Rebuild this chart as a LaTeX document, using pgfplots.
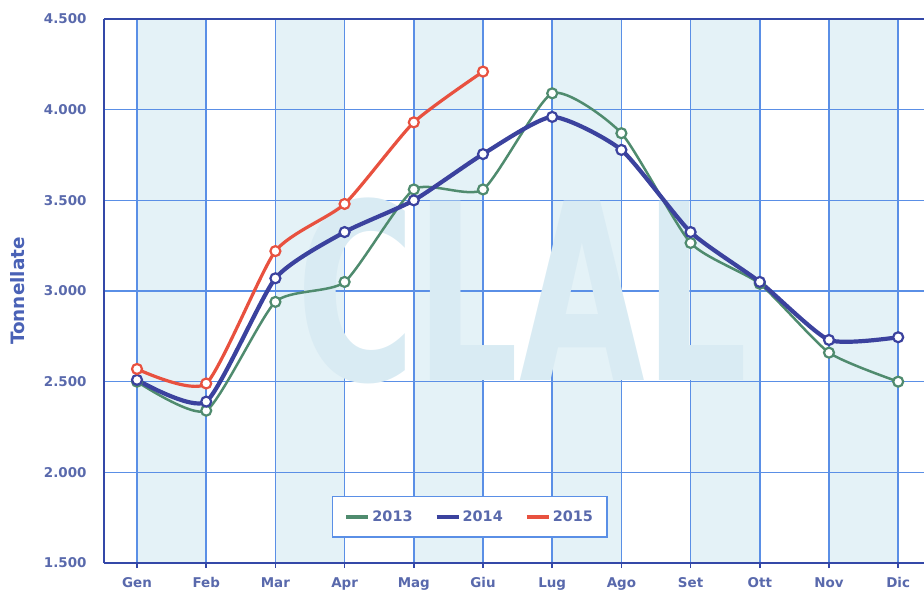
\documentclass[border=0pt]{standalone}
\usepackage{fontspec}
\setmainfont{DejaVu Sans}
\usepackage{pgfplots}
\pgfplotsset{compat=1.18}

\definecolor{c13}{HTML}{4F8B6E}
\definecolor{c14}{HTML}{3B429E}
\definecolor{c15}{HTML}{E8513F}
\definecolor{gridc}{HTML}{5A8FE6}
\definecolor{spine}{HTML}{3448A8}
\definecolor{band}{HTML}{E4F2F7}
\definecolor{tickc}{HTML}{5969AC}
\definecolor{labc}{HTML}{4A62B6}
\definecolor{wm}{HTML}{D9EBF3}

\begin{document}
\begin{tikzpicture}
\begin{axis}[
    name=ax, set layers,
    scale only axis, width=820bp, height=544bp,
    xmin=-0.477, xmax=11.373, ymin=1500, ymax=4500,
    axis x line=box, axis y line=left,
    axis line style={-, draw=spine, line width=2.6bp},
    xtick={0,...,11},
    xticklabels={Gen,Feb,Mar,Apr,Mag,Giu,Lug,Ago,Set,Ott,Nov,Dic},
    xtick pos=bottom, tick align=outside, major tick length=5bp,
    xtick style={draw=spine, line width=1.5bp},
    ytick={1500,2000,...,4500},
    yticklabels={1.500,2.000,2.500,3.000,3.500,4.000,4.500},
    ytick style={draw=none},
    grid=major, major grid style={draw=gridc, line width=1.6bp},
    tick label style={font=\fontsize{13.5}{16}\selectfont\bfseries, text=tickc},
    xticklabel shift=6bp, yticklabel shift=9bp,
    ylabel={Tonnellate},
    ylabel style={at={(rel axis cs:0,0.5)}, anchor=center, yshift=86bp,
        font=\fontsize{18.5}{20}\selectfont\bfseries, text=labc},
    legend columns=3,
    legend image code/.code={\draw[#1, mark=none, line width=4bp] (0bp,0bp) -- (22bp,0bp);},
    legend style={at={(0.446,0.085)}, anchor=center, draw=gridc, line width=1.6bp,
        fill=white, font=\fontsize{14.5}{16}\selectfont\bfseries, text=tickc,
        inner xsep=12bp, inner ysep=12bp,
        /tikz/every even column/.append style={column sep=20bp}},
    legend cell align=left,
]
% bande di sfondo alternate
\addplot[draw=none, fill=band, forget plot, on layer=axis background] coordinates {(0,1500) (1,1500) (1,4500) (0,4500)};
\addplot[draw=none, fill=band, forget plot, on layer=axis background] coordinates {(2,1500) (3,1500) (3,4500) (2,4500)};
\addplot[draw=none, fill=band, forget plot, on layer=axis background] coordinates {(4,1500) (5,1500) (5,4500) (4,4500)};
\addplot[draw=none, fill=band, forget plot, on layer=axis background] coordinates {(6,1500) (7,1500) (7,4500) (6,4500)};
\addplot[draw=none, fill=band, forget plot, on layer=axis background] coordinates {(8,1500) (9,1500) (9,4500) (8,4500)};
\addplot[draw=none, fill=band, forget plot, on layer=axis background] coordinates {(10,1500) (11,1500) (11,4500) (10,4500)};
\node[on layer=axis background, text=wm, xscale=0.66, font=\fontsize{247}{250}\selectfont\bfseries]
    at (axis cs:5.57,3000) {CLAL};

\addplot[c13, line width=2.5bp, smooth, tension=0.35, mark=*, mark size=5bp,
    mark options={fill=white, draw=c13, line width=2.2bp}] coordinates {
    (0,2500) (1,2340) (2,2940) (3,3050) (4,3560) (5,3560)
    (6,4090) (7,3870) (8,3265) (9,3040) (10,2660) (11,2500)};
\addplot[c14, line width=4.2bp, smooth, tension=0.35, mark=*, mark size=5bp,
    mark options={fill=white, draw=c14, line width=2.2bp}] coordinates {
    (0,2510) (1,2390) (2,3070) (3,3325) (4,3500) (5,3755)
    (6,3960) (7,3778) (8,3325) (9,3050) (10,2730) (11,2745)};
\addplot[c15, line width=3.2bp, smooth, tension=0.35, mark=*, mark size=5bp,
    mark options={fill=white, draw=c15, line width=2.2bp}] coordinates {
    (0,2570) (1,2490) (2,3220) (3,3480) (4,3930) (5,4210)};
\legend{2013,2014,2015}
\end{axis}
\pgfresetboundingbox
\path[use as bounding box] ([xshift=-104bp,yshift=-35bp]ax.south west) rectangle ([yshift=19bp]ax.north east);
\end{tikzpicture}
\end{document}
